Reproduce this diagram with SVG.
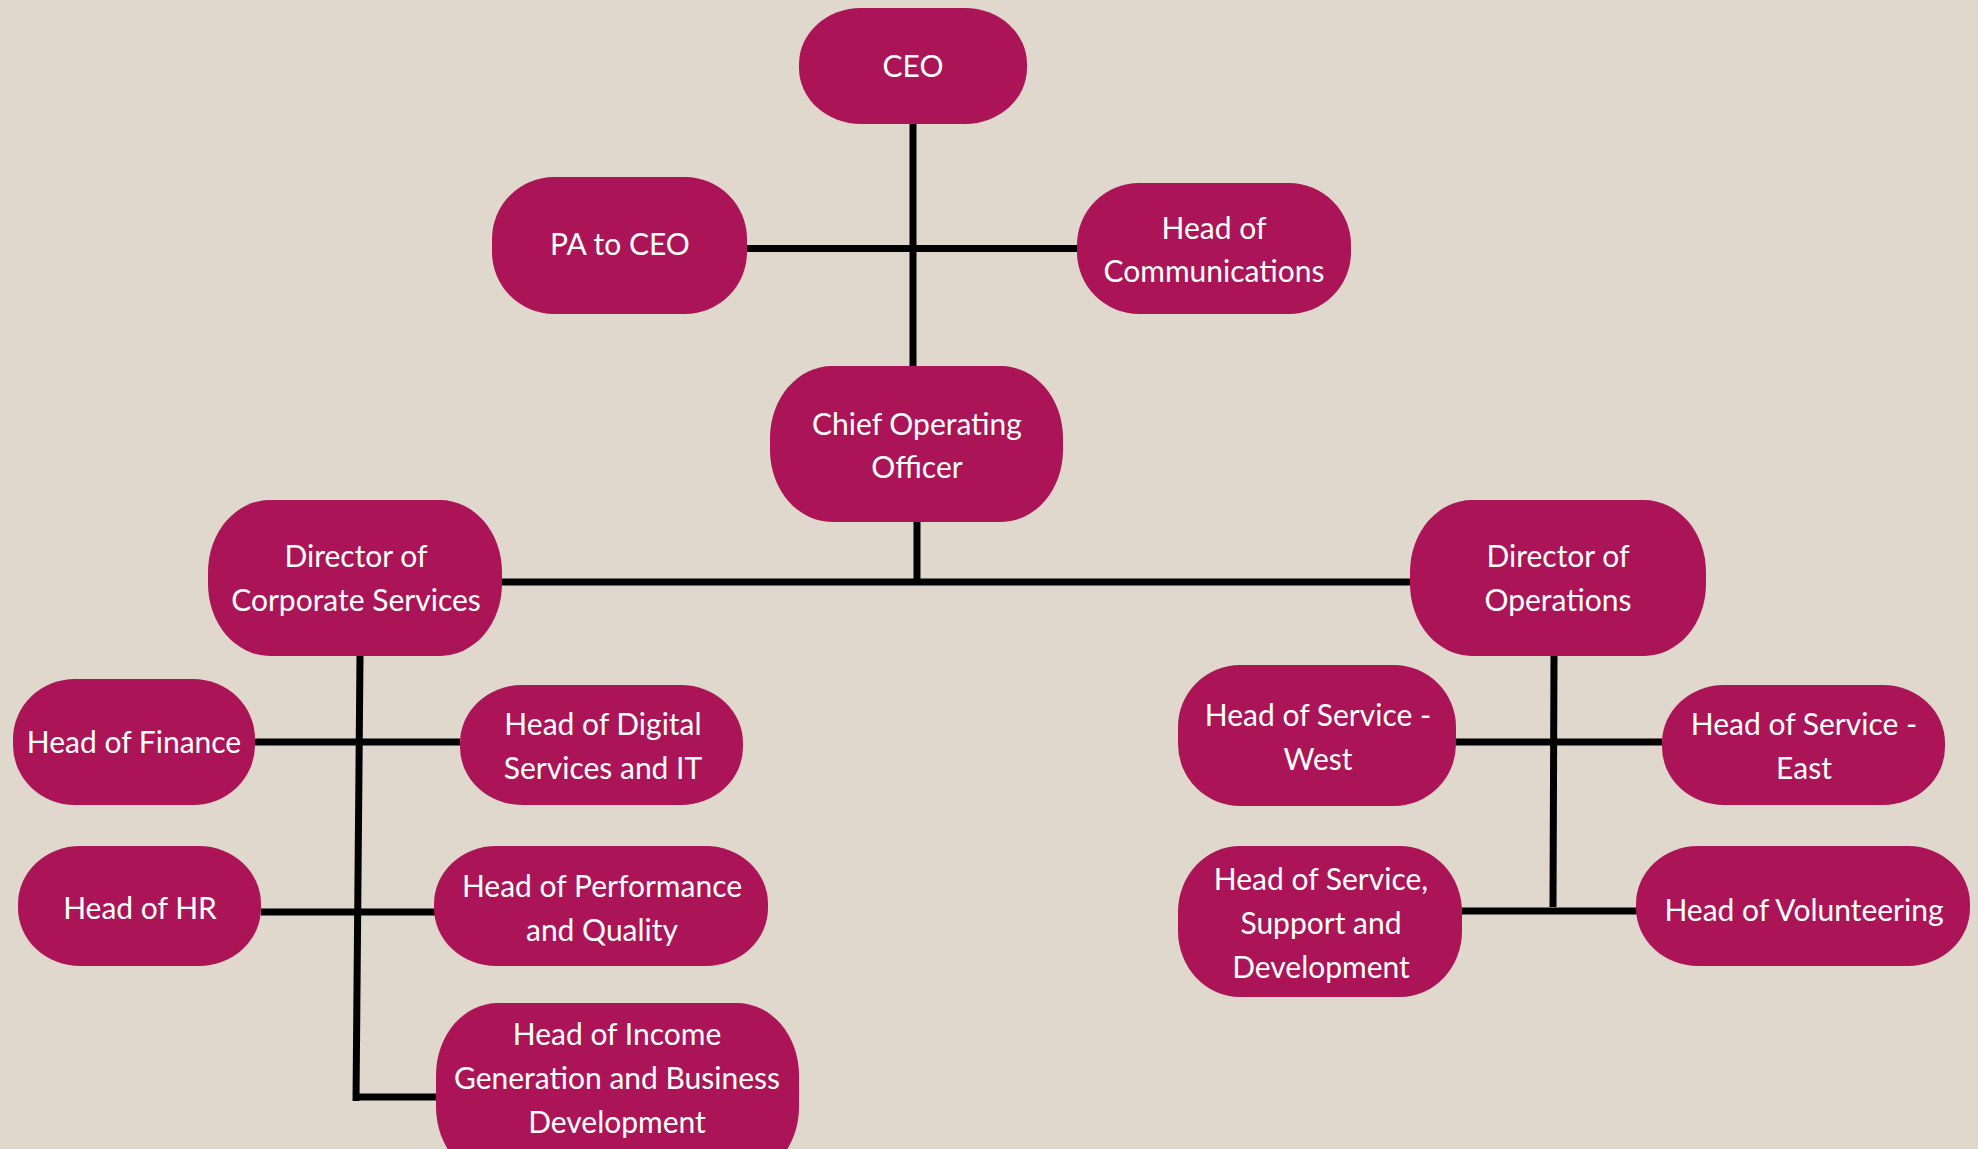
<svg xmlns="http://www.w3.org/2000/svg" width="1978" height="1149" viewBox="0 0 1978 1149">
<style>
.bg{fill:#E0D7CD}
.node rect{fill:#AB1557}
.node text{fill:#FFFFFF;font-family:Lato,"Open Sans","Liberation Sans",sans-serif;font-size:30px;text-anchor:middle;dominant-baseline:central}
.conn line{stroke:#000000;stroke-width:7;stroke-linecap:butt}
</style>
<rect class="bg" x="0" y="0" width="1978" height="1149"/>
<g id="connectors" class="conn">
<line x1="913" y1="124" x2="913" y2="366"/>
<line x1="747" y1="248.5" x2="1077" y2="248.5"/>
<line x1="917" y1="520" x2="917" y2="582"/>
<line x1="502" y1="582" x2="1410" y2="582"/>
<line x1="360" y1="656" x2="356" y2="1101"/>
<line x1="255" y1="742" x2="460" y2="742"/>
<line x1="261" y1="912" x2="435" y2="912"/>
<line x1="356" y1="1097" x2="437" y2="1097"/>
<line x1="1554" y1="656" x2="1553" y2="907"/>
<line x1="1455" y1="742" x2="1662" y2="742"/>
<line x1="1462" y1="911" x2="1637" y2="911"/>
</g>
<g id="ceo" class="node"><rect x="799" y="8" width="228" height="116" rx="62" ry="56"/><text x="913" y="65">CEO</text></g>
<g id="pa-to-ceo" class="node"><rect x="492" y="177" width="255" height="137" rx="62" ry="62"/><text x="620" y="243">PA to CEO</text></g>
<g id="head-of-communications" class="node"><rect x="1077" y="183" width="274" height="131" rx="62" ry="62"/><text x="1214" y="227">Head of</text><text x="1214" y="270">Communications</text></g>
<g id="coo" class="node"><rect x="770" y="366" width="293" height="156" rx="62" ry="72"/><text x="917" y="423">Chief Operating</text><text x="917" y="466">Officer</text></g>
<g id="director-corporate" class="node"><rect x="208" y="500" width="294" height="156" rx="62" ry="72"/><text x="356" y="555">Director of</text><text x="356" y="599">Corporate Services</text></g>
<g id="director-operations" class="node"><rect x="1410" y="500" width="296" height="156" rx="62" ry="72"/><text x="1558" y="555">Director of</text><text x="1558" y="599">Operations</text></g>
<g id="head-finance" class="node"><rect x="13" y="679" width="242" height="126" rx="62" ry="60"/><text x="134" y="741">Head of Finance</text></g>
<g id="head-digital" class="node"><rect x="460" y="685" width="283" height="120" rx="62" ry="58"/><text x="603" y="723">Head of Digital</text><text x="603" y="767">Services and IT</text></g>
<g id="head-hr" class="node"><rect x="18" y="846" width="243" height="120" rx="62" ry="58"/><text x="140" y="907">Head of HR</text></g>
<g id="head-performance" class="node"><rect x="434" y="846" width="334" height="120" rx="62" ry="58"/><text x="602" y="885">Head of Performance</text><text x="602" y="929">and Quality</text></g>
<g id="head-income" class="node"><rect x="436" y="1003" width="363" height="176" rx="62" ry="72"/><text x="617" y="1033">Head of Income</text><text x="617" y="1077">Generation and Business</text><text x="617" y="1121">Development</text></g>
<g id="head-west" class="node"><rect x="1178" y="665" width="278" height="141" rx="62" ry="62"/><text x="1318" y="714">Head of Service -</text><text x="1318" y="758">West</text></g>
<g id="head-east" class="node"><rect x="1662" y="685" width="283" height="120" rx="62" ry="58"/><text x="1804" y="723">Head of Service -</text><text x="1804" y="767">East</text></g>
<g id="head-support" class="node"><rect x="1178" y="846" width="284" height="151" rx="62" ry="66"/><text x="1321" y="878">Head of Service,</text><text x="1321" y="922">Support and</text><text x="1321" y="966">Development</text></g>
<g id="head-volunteering" class="node"><rect x="1636" y="846" width="334" height="120" rx="62" ry="58"/><text x="1804" y="909">Head of Volunteering</text></g>
</svg>
